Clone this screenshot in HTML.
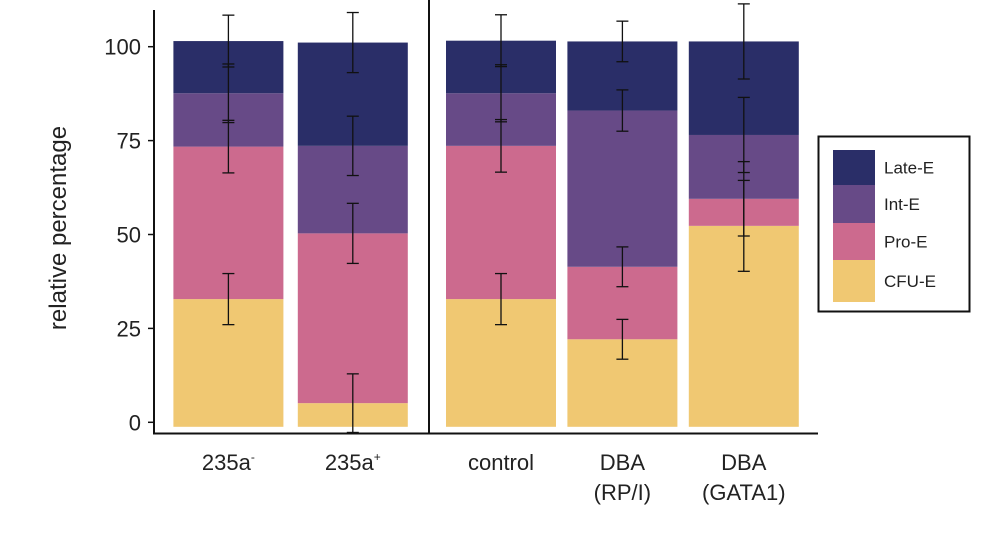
<!DOCTYPE html>
<html><head><meta charset="utf-8"><style>
html,body{margin:0;padding:0;background:#fff}
svg{display:block;font-family:"Liberation Sans",Arial,sans-serif}
</style></head><body>
<svg id="chart" width="998" height="540" xmlns="http://www.w3.org/2000/svg">
  <text x="66" y="228" font-size="24" fill="#222" text-anchor="middle" transform="rotate(-90 66 228)">relative percentage</text>
  <g id="yticks"></g>
  <g id="bars"></g>
  <g id="errs"></g>
  <line x1="154" y1="10" x2="154" y2="434" stroke="#111" stroke-width="2"/>
  <line x1="429" y1="0" x2="429" y2="434" stroke="#111" stroke-width="2"/>
  <line x1="153" y1="433.5" x2="818" y2="433.5" stroke="#111" stroke-width="2"/>
  <g id="xlabels"></g>
  <g>
    <rect x="818.5" y="136.5" width="151" height="175" fill="#fff" stroke="#111" stroke-width="2"/>
    <g id="legend"></g>
  </g>
</svg>
<script>
const categories = ["235a-", "235a+", "control", "DBA (RP/I)", "DBA (GATA1)"];
const seriesNames = ["CFU-E", "Pro-E", "Int-E", "Late-E"];
const cfu  = [34.0, 6.3, 34.0, 23.3, 53.5];
const pro  = [40.6, 45.2, 40.8, 19.3, 7.2];
const intE = [14.2, 23.3, 14.0, 41.6, 17.0];
const late = [13.9, 27.5, 14.0, 18.4, 24.9];
const cfuErr  = [6.8, 7.8, 6.8, 5.3, 12.1];
const proErr  = [7.0, 8.0, 7.0, 5.3, 9.9];
const intErr  = [7.8, 7.9, 7.6, 5.5, 10.0];
const lateErr = [6.9, 8.0, 6.9, 5.4, 10.0];
const yTicks = [0, 25, 50, 75, 100];
const baseline = -1.2;

const NS = "http://www.w3.org/2000/svg";
const colors = ["#f0c872", "#cc6a8e", "#674a87", "#2a2e68"];
function y(v){ return 422.3 - v * 3.756; }
function xc(i){ return i < 2 ? 228.4 + i * 124.4 : 501 + (i - 2) * 121.4; }
const bw = 110;
function mk(tag, attrs, parent){
  const e = document.createElementNS(NS, tag);
  for (const k in attrs) e.setAttribute(k, attrs[k]);
  parent.appendChild(e); return e;
}
const yt = document.getElementById("yticks");
yTicks.forEach(t => {
  const l = mk("line", {x1:148, x2:154, y1:y(t), y2:y(t), stroke:"#111", "stroke-width":1.5}, yt);
  
  
  const tx = mk("text", {x:141, y:y(t)+8, "font-size":22, fill:"#222", "text-anchor":"end"}, yt);
  tx.textContent = t;
  
  
});
const series = [cfu, pro, intE, late];
const errs = [cfuErr, proErr, intErr, lateErr];
const bg = document.getElementById("bars"), eg = document.getElementById("errs");
categories.forEach((c, i) => {
  let cum = baseline;
  series.forEach((s, k) => {
    const top = cum + s[i];
    const r = mk("rect", {x:xc(i)-bw/2, y:y(top), width:bw, height:y(cum)-y(top), fill:colors[k]}, bg);
    
    
    const e = errs[k][i], cx = xc(i);
    const g = mk("g", {stroke:"#111", "stroke-width":1.3}, eg);
    
    
    mk("line", {x1:cx, x2:cx, y1:y(top+e), y2:Math.min(y(top-e), 433)}, g);
    mk("line", {x1:cx-6, x2:cx+6, y1:y(top+e), y2:y(top+e)}, g);
    if (y(top-e) < 433) mk("line", {x1:cx-6, x2:cx+6, y1:y(top-e), y2:y(top-e)}, g);
    cum = top;
  });
});
const xl = document.getElementById("xlabels");
const labelLines = [["235a<tspan font-size='12' dy='-9'>-</tspan>"], ["235a<tspan font-size='12' dy='-9'>+</tspan>"], ["control"], ["DBA","(RP/I)"], ["DBA","(GATA1)"]];
labelLines.forEach((ls, i) => {
  ls.forEach((l, j) => {
    const t = mk("text", {x:xc(i), y:470 + j*30, "font-size":22, fill:"#222", "text-anchor":"middle"}, xl);
    t.innerHTML = l;
    
    
  });
});
const lg = document.getElementById("legend");
const legOrder = [3, 2, 1, 0];
const rowY = [150, 185, 223, 260, 302];
legOrder.forEach((k, r) => {
  const rc = mk("rect", {x:833, y:rowY[r], width:42, height:rowY[r+1]-rowY[r], fill:colors[k]}, lg);
  
  
  const t = mk("text", {x:884, y:(rowY[r]+rowY[r+1])/2 + 6, "font-size":17, fill:"#222"}, lg);
  t.textContent = seriesNames[k];
  
  
});
</script>
</body></html>
